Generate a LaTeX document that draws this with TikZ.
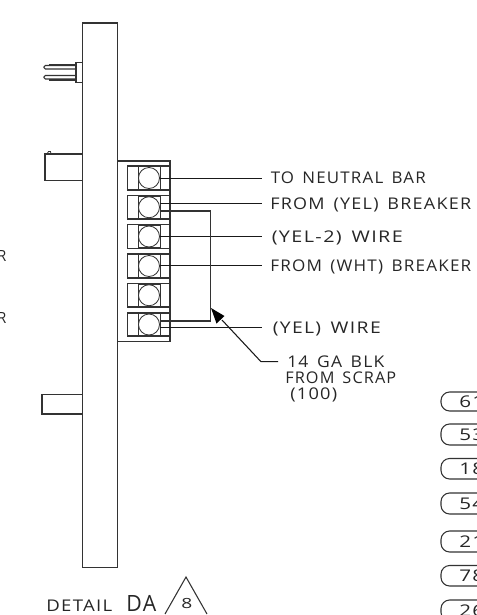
\documentclass[tikz,border=0pt]{standalone}
\usepackage{fontspec}
\usepackage{graphicx}
\setmainfont[LetterSpace=7,WordSpace=1.5]{Open Sans}
\newdimen\pxu \pxu=.75pt
% width px, cap height px, text
\newcommand{\cadtxt}[3]{\resizebox{#1\pxu}{#2\pxu}{\vphantom{H}\smash{#3}}}
\tikzset{
  ink/.style={draw=black!80,line width=.8pt},
  wire/.style={draw=black!90,line width=.8pt},
  lbl/.style={inner sep=0pt,anchor=west,text=black!85},
}
\begin{document}
\begin{tikzpicture}[x=.75pt,y=-.75pt]
\useasboundingbox (0,0) rectangle (477,615);
\clip (0,0) rectangle (477,615);
% panel and attached parts
\draw[ink] (82.5,23) rectangle (117.5,567.5);
\draw[ink] (76,62.5) rectangle (82.5,82.5);
\draw[ink,rounded corners=1pt] (76,65.5) -- (44,65.5) -- (44,69) -- (76,69);
\draw[ink,line width=1.5pt] (49,64.5) -- (76,64.5);
\draw[ink,rounded corners=1pt] (76,75.5) -- (44,75.5) -- (44,79) -- (76,79);
\draw[ink,line width=1.5pt] (49,79.8) -- (76,79.8);
\draw[ink] (82.5,154) -- (45,154) -- (45,180.5) -- (82.5,180.5);
\draw[ink,line width=.6pt] (47,154) -- (48.5,151.5) -- (50.5,151.5) -- (51,154);
\draw[ink] (82.5,394.5) -- (42,394.5) -- (42,414) -- (82.5,414);
% terminal block
\draw[ink] (117.5,161) -- (170,161) -- (170,341.5) -- (117.5,341.5);
\foreach \n/\a/\b in {1/166/190,2/195.5/219,3/224.5/248.5,4/254/278,5/283.5/307,6/313/336}{
  \draw[ink] (170,\a) -- (127.5,\a) -- (127.5,\b) -- (170,\b);
  \draw[ink,line width=.6pt] (138,\a+.7) rectangle (160,\b-.7);
  \draw[ink,fill=white,line width=.6pt] (149,{(\a+\b)/2}) circle[radius=10.5];
  \coordinate (t\n) at (160,{(\a+\b)/2});
}
% labels
\node[lbl] (neutral) at (270.5,178) {\cadtxt{155}{11.5}{TO NEUTRAL BAR}};
\node[lbl] (yelbrk) at (270,204) {\cadtxt{201}{11.5}{FROM (YEL) BREAKER}};
\node[lbl] (yeltwo) at (271.5,237) {\cadtxt{131}{11.5}{(YEL-2) WIRE}};
\node[lbl] (whtbrk) at (270,265.5) {\cadtxt{201}{11.5}{FROM (WHT) BREAKER}};
\node[lbl] (yelw) at (272.5,328) {\cadtxt{108}{11.5}{(YEL) WIRE}};
\node[lbl] (ga) at (287,362) {\cadtxt{97}{11.5}{14 GA BLK}};
\node[lbl] (scrap) at (285,378) {\cadtxt{111}{11.5}{FROM SCRAP}};
\node[lbl] (hun) at (290,393.5) {\cadtxt{47}{11.5}{(100)}};
% wires
\coordinate (e1) at (262,178.7);
\coordinate (e2) at (262,203.3);
\coordinate (e3) at (262,236.7);
\coordinate (e4) at (262,265.7);
\coordinate (e6) at (262,327.7);
\draw[wire] (160,178.7) -- (e1);
\draw[wire] (160,203.3) -- (e2);
\draw[wire] (160,236.7) -- (e3);
\draw[wire] (160,265.7) -- (e4);
\draw[wire] (160,327.7) -- (e6);
\draw[ink] (160,211) -- (210.5,211) -- (210.5,321) -- (160,321);
% leader
\coordinate (tip) at (211,308);
\coordinate (knee) at (261,361.7);
\coordinate (lend) at (278,361.7);
\draw[wire] (lend) -- (knee) -- (222,320);
\fill[black] (tip) -- (224.5,316) -- (216.5,323.5) -- cycle;
% pills
\foreach \a/\b/\t in {392/411/61,424/445/53,458.5/479/18,493/514/54,531/552/21,565.5/586/78,600/621/26}{
  \draw[ink,rounded corners=6.5pt] (490,\a) -- (441,\a) -- (441,\b) -- (490,\b);
  \node[lbl] at (459,{(\a+\b)/2}) {\cadtxt{25}{11.5}{\t}};
}
% cut-off text at left edge
\node[lbl] (ra) at (-3,255.5) {\cadtxt{9}{11}{R}};
\node[lbl] (rb) at (-3,317.5) {\cadtxt{9}{11}{R}};
% title
\node[lbl] (detail) at (46,605.5) {\cadtxt{66}{11.5}{DETAIL}};
\node[lbl] (da) at (126,603) {\cadtxt{30}{16}{DA}};
\node[lbl] (rev) at (181,603) {\cadtxt{11}{10}{8}};
\draw[ink] (165,614) -- (186,577) -- (207,614);
\end{tikzpicture}
\end{document}
